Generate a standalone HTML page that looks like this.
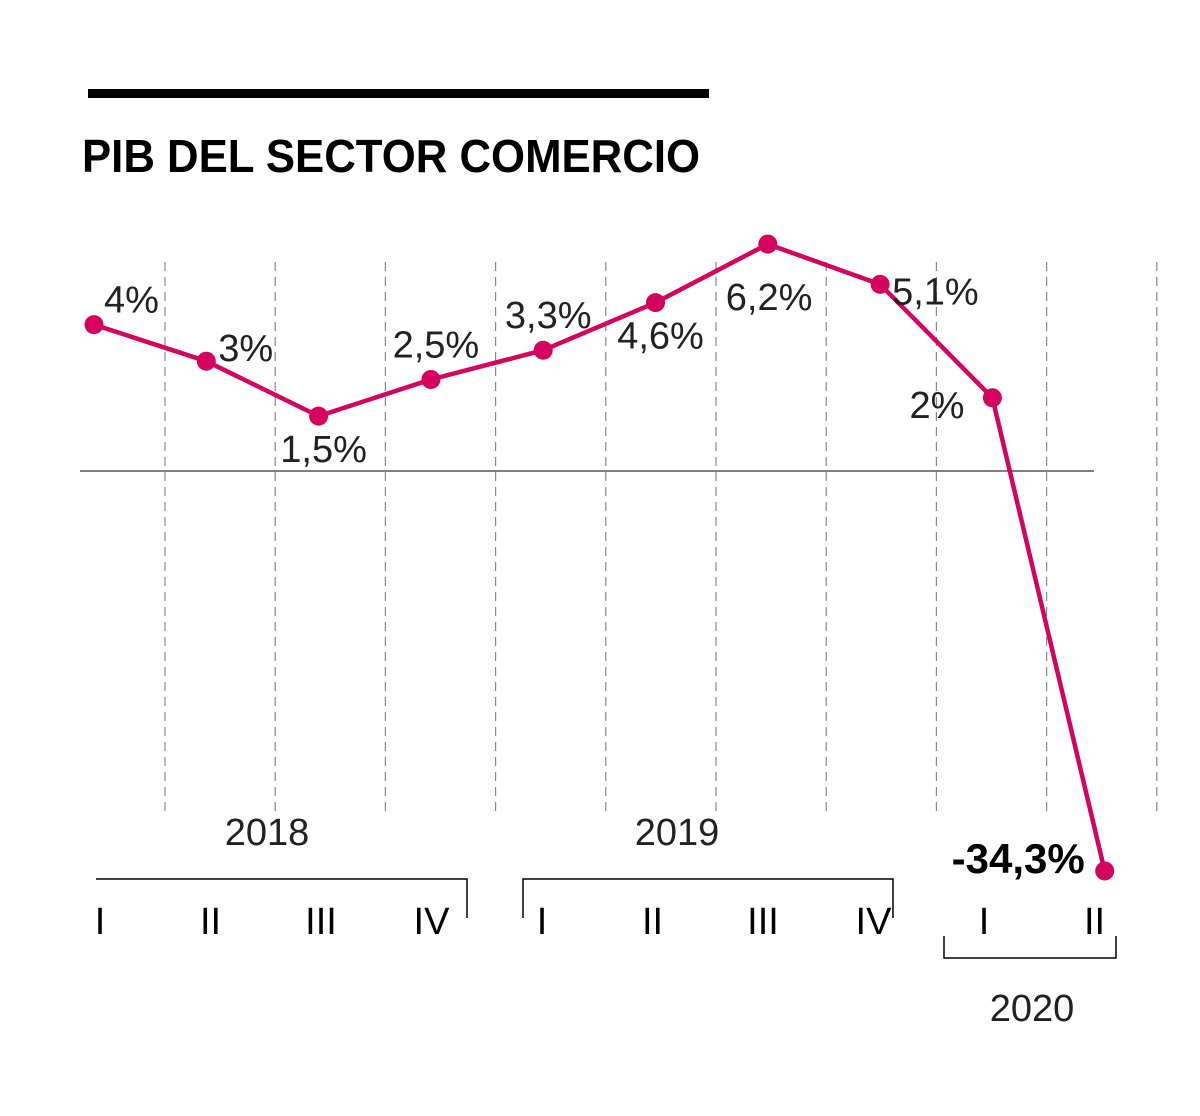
<!DOCTYPE html>
<html><head><meta charset="utf-8"><style>
body{margin:0;background:#fff;}
svg{display:block;font-family:"Liberation Sans",sans-serif;}
</style></head><body>
<svg id="chart" width="1200" height="1116" viewBox="0 0 1200 1116">
<rect x="88" y="89" width="621" height="9" fill="#000"/>
<text x="82" y="172" font-size="46" font-weight="bold" fill="#000" textLength="618" lengthAdjust="spacingAndGlyphs">PIB DEL SECTOR COMERCIO</text>
<g id="grid"></g>
<line x1="80" y1="471" x2="1094" y2="471" stroke="#000" stroke-width="1"/>
<g id="series"></g>
<g id="axis" font-size="38" fill="#000"></g>
</svg>
<script>
const categories = ["2018-I","2018-II","2018-III","2018-IV","2019-I","2019-II","2019-III","2019-IV","2020-I","2020-II"];
const values = [4, 3, 1.5, 2.5, 3.3, 4.6, 6.2, 5.1, 2, -34.3];
const valueLabels = ["4%","3%","1,5%","2,5%","3,3%","4,6%","6,2%","5,1%","2%","-34,3%"];
const labelPlacement = ["ur","r","b","u","u","b","br","r","l","l"];
const quarterLabels = ["I","II","III","IV","I","II","III","IV","I","II"];
const yearLabels = ["2018","2019","2020"];

const NS = "http://www.w3.org/2000/svg";
const x = i => 94 + i * 112.3;
const y = v => v >= 0 ? 471 - v * 36.6 : 471 - v * 11.66;
function mk(tag, attrs, parent){const e=document.createElementNS(NS,tag);for(const k in attrs)e.setAttribute(k,attrs[k]);parent.appendChild(e);return e;}

const grid = document.getElementById('grid');
for (let i = 0; i < categories.length; i++) {
  const gx = 165 + i * 110.2;
  const l = mk('line',{x1:gx,y1:262,x2:gx,y2:815,stroke:'#888','stroke-width':1.2,'stroke-dasharray':'9,6'},grid);
  
  
}

const series = document.getElementById('series');
const pts = values.map((v,i)=>x(i)+','+y(v)).join(' ');
const pl = mk('polyline',{points:pts,fill:'none',stroke:'#d4035e','stroke-width':4.5,'stroke-linejoin':'round'},series);


values.forEach((v,i)=>{
  const c = mk('circle',{cx:x(i),cy:y(v),r:9.5,fill:'#d4035e'},series);
  
  
  const p = labelPlacement[i];
  let tx=x(i), ty=y(v), anchor='start';
  if(p==='ur'){tx+=10;ty-=12;}
  else if(p==='r'){tx+=12;ty+=(i===7?20:0);}
  else if(p==='b'){tx+=5;ty+=46;anchor='middle';}
  else if(p==='u'){tx+=5;ty-=22;anchor='middle';}
  else if(p==='br'){tx-=42;ty+=66;}
  else if(p==='l'){tx-=28;ty+=20;anchor='end';}
  const t = mk('text',{x:tx,y:ty,'text-anchor':anchor,'font-size':38,fill:'#222'},series);
  if(i===values.length-1){t.setAttribute('font-weight','bold');t.setAttribute('fill','#000');t.setAttribute('y',y(v)+2);t.setAttribute('font-size',42);t.setAttribute('x',x(i)-20);}
  t.textContent = valueLabels[i];
  
  
});

const axis = document.getElementById('axis');
quarterLabels.forEach((q,i)=>{
  const t = mk('text',{x:100 + i*110.5,y:934,'text-anchor':'middle'},axis);
  t.textContent=q;
  
  
});
const brackets = [[96,467,879,'down'],[523,893,879,'down'],[944,1116,958,'up']];
brackets.forEach((b,k)=>{
  const d = b[3]==='down' ? `M${b[0]},${b[2]} H${b[1]} V${b[2]+39}` : `M${b[0]},${b[2]-22} V${b[2]} H${b[1]} V${b[2]-22}`;
  const pth = mk('path',{d:d,fill:'none',stroke:'#000','stroke-width':1.5},axis);
  if(k===1) pth.setAttribute('d',`M${b[0]},${b[2]+39} V${b[2]} H${b[1]} V${b[2]+39}`);
  
  
});
const yearPos = [[267,845],[677,845],[1032,1021]];
yearLabels.forEach((yl,k)=>{
  const t = mk('text',{x:yearPos[k][0],y:yearPos[k][1],'text-anchor':'middle',fill:'#222'},axis);
  t.textContent=yl;
  
  
});
</script>
</body></html>
